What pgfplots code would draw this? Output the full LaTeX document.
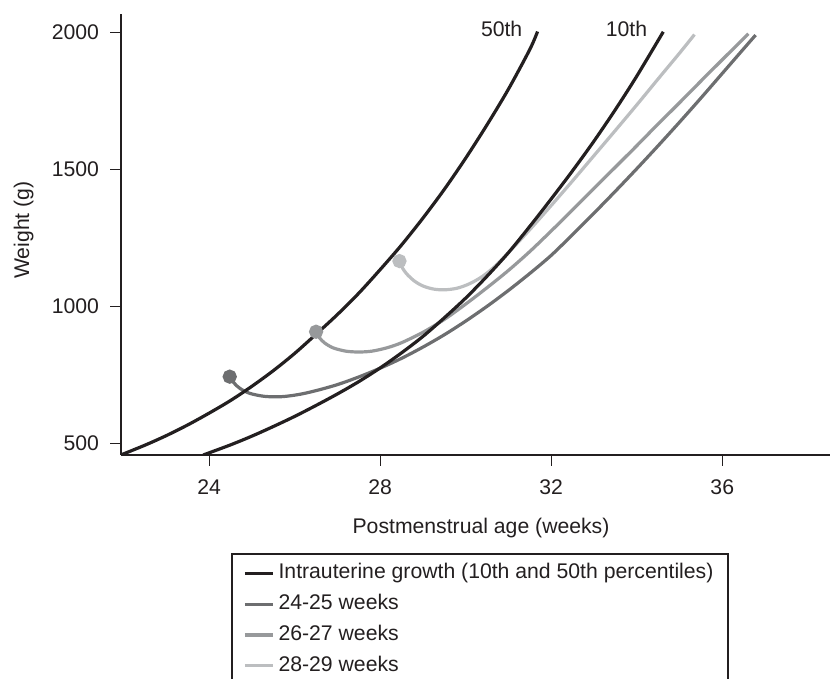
\documentclass[border=0pt]{standalone}
\usepackage{fontspec}
\setmainfont{Liberation Sans}
\usepackage{pgfplots}
\pgfplotsset{compat=1.18}
\usetikzlibrary{calc}

\definecolor{ink}{HTML}{231F20}
\definecolor{g1}{HTML}{6D6E70}
\definecolor{g2}{HTML}{97999B}
\definecolor{g3}{HTML}{BCBEC0}

\begin{document}
\begin{tikzpicture}[font=\fontsize{10.6}{12.7}\selectfont, text=ink]
\begin{axis}[
  name=ax,
  scale only axis,
  width=354.65pt, height=220.5pt,
  xmin=21.93, xmax=38.52, ymin=457, ymax=2067,
  axis lines=left,
  axis line style={-, line width=1pt, ink},
  xtick={24,28,32,36}, ytick={500,1000,1500,2000},
  tick align=outside, major tick length=5.3pt,
  tick style={line width=0.5pt, ink},
  xticklabel style={yshift=-3.5pt},
  yticklabel style={xshift=-2pt},
  /pgf/number format/assume math mode=true,
  /pgf/number format/1000 sep={},
  xlabel={Postmenstrual age (weeks)},
  ylabel={Weight (g)},
  xlabel style={at={(axis description cs:0.508,-0.166)}, anchor=center},
  ylabel style={at={(axis description cs:-0.137,0.51)}, anchor=center},
  legend style={draw=none, fill=none, inner sep=0pt,
    at={(axis description cs:0.1724,-0.2438)}, anchor=north west,
    row sep=4.9pt, column sep=2pt,
    nodes={inner sep=0pt, text height=8pt, text depth=2.5pt},
    cells={anchor=west}},
  legend image code/.code={\draw[#1] (0pt,0pt) -- (14pt,0pt);},
  every axis plot/.append style={line width=1.6pt},
]
% legend first, in the reference's order
\addlegendimage{ink}
\addlegendentry{Intrauterine growth (10th and 50th percentiles)}
\addlegendimage{g1}
\addlegendentry{24-25 weeks}
\addlegendimage{g2}
\addlegendentry{26-27 weeks}
\addlegendimage{g3}
\addlegendentry{28-29 weeks}

% 24-25 weeks
\addplot[g1, smooth, forget plot] table {
24.48 743
24.58 720
24.72 700
24.95 682
25.3 671
25.7 670
26.1 678
26.5 692
27.0 714
27.5 742
28.0 774
28.5 810
29.0 851
29.5 896
30.0 946
30.5 1000
31.0 1058
31.5 1120
32.0 1186
32.5 1262
33.0 1340
33.5 1420
34.0 1502
34.5 1586
35.0 1672
35.5 1760
36.0 1850
36.5 1940
36.78 1990
};
\addplot[g1, only marks, mark=*, mark size=2.75pt, forget plot] coordinates {(24.48,743)};

% 26-27 weeks
\addplot[g2, smooth, forget plot] table {
26.5 907
26.58 885
26.7 866
26.9 848
27.2 836
27.5 833
27.8 836
28.15 848
28.5 867
29.0 905
29.5 952
30.0 1008
30.5 1068
31.0 1131
31.5 1200
32.0 1275
32.5 1352
33.0 1430
33.5 1508
34.0 1586
34.39 1648
35.0 1743
35.5 1822
36.0 1900
36.61 1995
};
\addplot[g2, only marks, mark=*, mark size=2.75pt, forget plot] coordinates {(26.5,907)};

% 28-29 weeks
\addplot[g3, smooth, forget plot] table {
28.45 1165
28.52 1140
28.62 1118
28.8 1092
29.0 1074
29.24 1063
29.5 1060
29.8 1066
30.1 1083
30.4 1110
30.7 1148
31.0 1196
31.5 1280
32.0 1368
32.5 1458
33.0 1550
33.5 1642
34.0 1735
34.5 1830
35.0 1924
35.35 1992
};
\addplot[g3, only marks, mark=*, mark size=2.75pt, forget plot] coordinates {(28.45,1165)};

% intrauterine 50th percentile
\addplot[ink, smooth, forget plot] table {
21.93 457
22.5 493
23.0 528
23.5 567
24.0 610
24.5 656
25.0 708
25.5 765
26.0 828
26.5 898
27.0 970
27.5 1048
28.0 1134
28.5 1224
29.0 1322
29.5 1427
30.0 1541
30.5 1663
31.0 1793
31.5 1938
31.68 2003
};
% intrauterine 10th percentile
\addplot[ink, smooth, forget plot] table {
23.86 457
24.5 494
25.0 526
25.5 561
26.0 598
26.5 638
27.0 680
27.5 725
28.0 775
28.5 830
29.0 890
29.5 958
30.0 1030
30.5 1110
31.0 1196
31.5 1292
32.0 1392
32.5 1495
33.0 1603
33.5 1718
34.0 1840
34.62 2002
};

\node at (axis cs:30.84,2012) {50th};
\node at (axis cs:33.76,2012) {10th};
\end{axis}

% legend frame, open at the bottom where the reference is cut
\draw[line width=1pt, ink]
  ($(ax.south west)+(55.5pt,-130pt)$) |- ($(ax.south west)+(303.8pt,-49.5pt)$)
  -- ($(ax.south west)+(303.8pt,-130pt)$);

\pgfresetboundingbox
\path[use as bounding box] ($(ax.south west)+(-60.35pt,-112pt)$) rectangle ($(ax.north east)+(0pt,7pt)$);
\end{tikzpicture}
\end{document}
